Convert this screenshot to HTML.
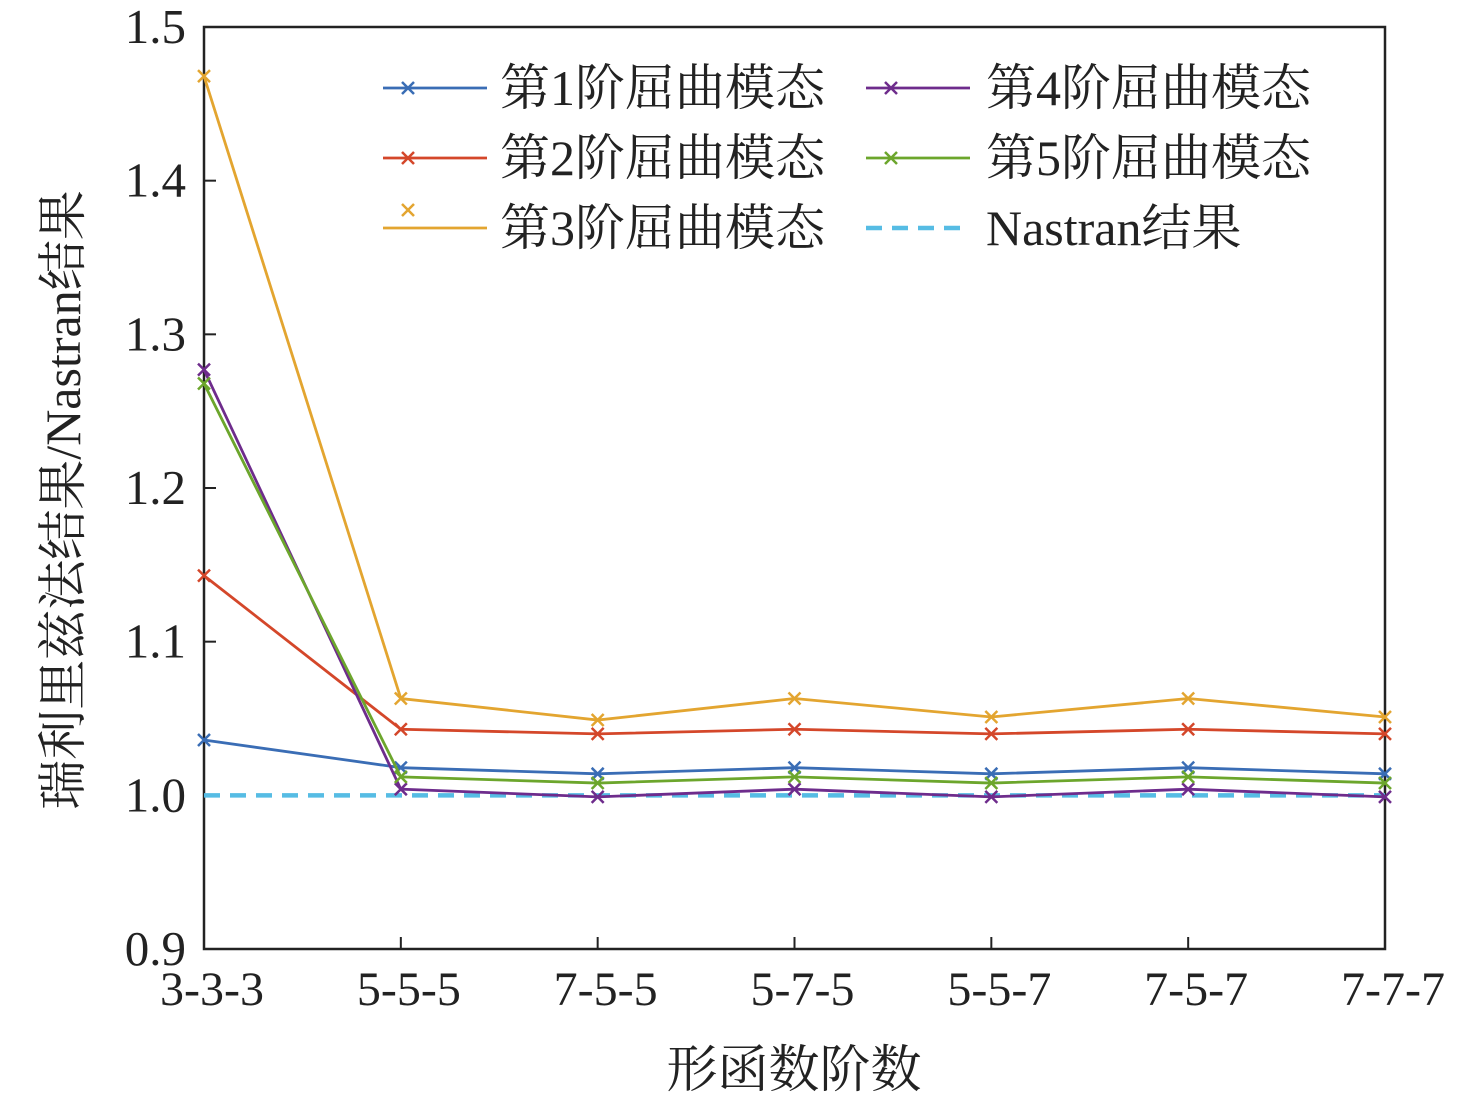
<!DOCTYPE html>
<html><head><meta charset="utf-8"><style>
html,body{margin:0;padding:0;background:#fff;}
svg text{font-family:"Liberation Serif","Noto Serif CJK SC",serif;fill:#222;}
</style></head><body>
<svg id="chart" width="1476" height="1102" xmlns="http://www.w3.org/2000/svg">
<g id="plot"></g>
</svg>
<script>
const categories=["3-3-3","5-5-5","7-5-5","5-7-5","5-5-7","7-5-7","7-7-7"];
const mode1=[1.036,1.018,1.014,1.018,1.014,1.018,1.014];
const mode2=[1.143,1.043,1.040,1.043,1.040,1.043,1.040];
const mode3=[1.468,1.063,1.049,1.063,1.051,1.063,1.051];
const mode4=[1.277,1.004,0.999,1.004,0.999,1.004,0.999];
const mode5=[1.268,1.012,1.008,1.012,1.008,1.012,1.008];
const nastran=[1,1,1,1,1,1,1];
const yTicks=[0.9,1.0,1.1,1.2,1.3,1.4,1.5];
const yTickLabels=["0.9","1.0","1.1","1.2","1.3","1.4","1.5"];
const seriesNames=["第1阶屈曲模态","第2阶屈曲模态","第3阶屈曲模态","第4阶屈曲模态","第5阶屈曲模态","Nastran结果"];

const L=204,R=1385,T=27,B=949,NS="http://www.w3.org/2000/svg";
const xS=i=>L+i*(R-L)/(categories.length-1);
const yS=v=>B-(v-0.9)/(0.6)*(B-T);
const g=document.getElementById('plot');
function mk(tag,attrs,parent){const e=document.createElementNS(NS,tag);for(const k in attrs)e.setAttribute(k,attrs[k]);(parent||g).appendChild(e);return e;}
function cross(x,y,c,p){const s=6;mk('path',{d:`M${x-s},${y-s}L${x+s},${y+s}M${x-s},${y+s}L${x+s},${y-s}`,stroke:c,'stroke-width':2.5,fill:'none'},p);}

const fr=mk('rect',{x:L,y:T,width:R-L,height:B-T,fill:'none',stroke:'#222','stroke-width':2.5});



yTicks.forEach((v,i)=>{
  const t=mk('line',{x1:L,x2:L+12,y1:yS(v),y2:yS(v),stroke:'#222','stroke-width':2});
  
  
  const tx=mk('text',{x:186,y:yS(v)+16,'text-anchor':'end','font-size':49});
  tx.textContent=yTickLabels[i];
  
  
});
categories.forEach((c,i)=>{
  const t=mk('line',{x1:xS(i),x2:xS(i),y1:B,y2:B-12,stroke:'#222','stroke-width':2});
  
  
  const tx=mk('text',{x:xS(i)+8,y:1005,'text-anchor':'middle','font-size':48});
  tx.textContent=c;
  
  
});
const xt=mk('text',{x:794,y:1087,'text-anchor':'middle','font-size':51});
xt.textContent="形函数阶数";


const yt=mk('text',{x:0,y:0,'text-anchor':'middle','font-size':50,transform:'translate(80,500) rotate(-90)'});
yt.textContent="瑞利里兹法结果/Nastran结果";



const colors=["#3A6DB5","#D4472A","#E3A530","#6E2C8C","#6CA62C"];
const all=[mode1,mode2,mode3,mode4,mode5];
const np=mk('path',{d:nastran.map((v,i)=>(i?'L':'M')+xS(i)+','+yS(v)).join(''),stroke:'#56BCE4','stroke-width':4.5,'stroke-dasharray':'16,10',fill:'none'});


all.forEach((s,k)=>{
  const sg=mk('g',{});
  
  
  mk('path',{d:s.map((v,i)=>(i?'L':'M')+xS(i)+','+yS(v)).join(''),stroke:colors[k],'stroke-width':2.8,fill:'none'},sg);
  s.forEach((v,i)=>cross(xS(i),yS(v),colors[k],sg));
});

const lg=mk('g',{});


const pos=[[383,88],[383,158],[383,228],[866,88],[866,158],[866,228]];
const lcols=[...colors,"#56BCE4"];
pos.forEach((p,k)=>{
  const e=mk('g',{},lg);
  
  
  const [x,y]=p;
  if(k===5){mk('line',{x1:x,x2:x+104,y1:y,y2:y,stroke:lcols[k],'stroke-width':4.5,'stroke-dasharray':'16,10'},e);}
  else if(k===2){mk('line',{x1:x,x2:x+104,y1:y,y2:y,stroke:lcols[k],'stroke-width':2.8},e);cross(x+25,y-18,lcols[k],e);}
  else{mk('line',{x1:x,x2:x+104,y1:y,y2:y,stroke:lcols[k],'stroke-width':2.8},e);cross(x+25,y,lcols[k],e);}
  const t=mk('text',{x:x+(k<3?117:120),y:y+17,'font-size':50},e);
  t.textContent=seriesNames[k];
});
</script>
</body></html>
